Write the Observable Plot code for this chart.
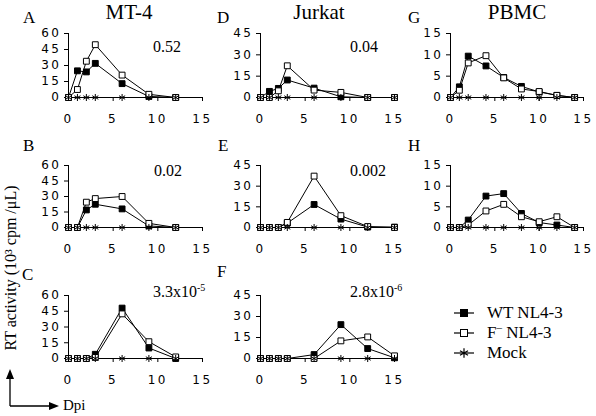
<!DOCTYPE html>
<html><head><meta charset="utf-8">
<script src="https://cdn.jsdelivr.net/npm/d3@7"></script>
<script src="https://cdn.jsdelivr.net/npm/@observablehq/plot@0.6"></script>
<style>
body{margin:0;background:#fff}
#fig{position:relative;width:596px;height:416px;overflow:hidden;background:#fff}
.panel{position:absolute}
.panel text{font-family:"DejaVu Sans",sans-serif;font-size:12px;letter-spacing:2.5px;fill:#000}
#ann{position:absolute;left:0;top:0}
#ann text{font-family:"Liberation Serif",serif;fill:#000}
</style>
</head><body><div id="fig"></div>
<script>
// ---- data (days post infection, RT activity 10^3 cpm/uL) ----
const daysA = [0,1,2,3,6,9,12];
const wtA   = [0,25,24,32,13,1,0];
const fA    = [0,7.5,34,49.5,21,3,0];
const mockA = [0,0,0,0,0,0,0];

const daysB = [0,1,2,3,6,9,12];
const wtB   = [0,0,17,22.5,18,1.5,0];
const fB    = [0,0,24.5,28,30,4,0];
const mockB = [0,0,0,0,0,0,0];

const daysC = [0,1,2,3,6,9,12];
const wtC   = [0,0,0,4,48,10,0];
const fC    = [0,0,0,1,42.5,16,1.5];
const mockC = [0,0,0,0,0,0,0];

const daysD = [0,1,2,3,6,9,12,15];
const wtD   = [0,4.3,6.4,12.3,6.6,0.5,0,0];
const fD    = [0,0,4.7,22.3,5.2,3.6,0,0];
const mockD = [0,0,0,0,0,0,0,0];

const daysE = [0,1,2,3,6,9,12,15];
const wtE   = [0,0,0,3.2,16.7,6.1,0.3,0.3];
const fE    = [0,0,0,3.7,37.3,8.6,0.7,0];
const mockE = [0,0,0,0,0,0,0,0];

const daysF = [0,1,2,3,6,9,12,15];
const wtF   = [0,0,0,0,2.8,24.2,7.1,0.5];
const fF    = [0,0,0,0,0,12.6,15.4,1.9];
const mockF = [0,0,0,0,0,0,0,0];

const daysG = [0,1,2,4,6,8,10,12,14];
const wtG   = [0,2.5,9.7,7.4,4.7,2.6,1.3,0.5,0];
const fG    = [0,1.7,8.1,9.8,4.6,2.0,1.4,0.5,0];
const mockG = [0,0,0,0,0,0,0,0,0];

const daysH = [0,1,2,4,6,8,10,12,14];
const wtH   = [0,0,1.8,7.6,8.2,3.4,1.2,0.6,0];
const fH    = [0,0,0.6,4.0,5.6,2.6,1.4,2.6,0];
const mockH = [0,0,0,0,0,0,0,0,0];

const xTicks = [0,5,10,15];
const yTicks60 = [0,15,30,45,60];
const yTicks45 = [0,15,30,45];
const yTicks15 = [0,5,10,15];

const cellTitles = ["MT-4","Jurkat","PBMC"];
const panelLetters = ["A","B","C","D","E","F","G","H"];
const pValues = ["0.52","0.02",["3.3x10","-5"],"0.04","0.002",["2.8x10","-6"]];
const seriesNames = ["WT NL4-3","F– NL4-3","Mock"];
const yLabel = "RT activity (10³ cpm /μL)";
const xLabel = "Dpi";

// ---- layout ----
const cols = [{x0:68,x15:202},{x0:260,x15:394},{x0:450,x15:583}];
const rowsL = [{top:33,zero:97},{top:165,zero:227},{top:295,zero:358}];

const fig = document.getElementById("fig");

function panel(days, wt, f, mock, ymax, yticks, col, row) {
  const mL = 40, mR = 12, mT = 8, mB = 34;
  const w = col.x15 - col.x0, h = row.zero - row.top;
  const tab = vals => days.map((d, i) => ({day: d, v: vals[i]}));
  const chart = Plot.plot({
    width: mL + w + mR, height: mT + h + mB,
    marginLeft: mL, marginRight: mR, marginTop: mT, marginBottom: mB,
    x: {domain: [0, 15], label: null},
    y: {domain: [0, ymax], label: null},
    style: {background: "transparent", overflow: "visible"},
    marks: [
      Plot.axisX({ticks: xTicks, tickSize: 4, tickPadding: 13, tickFormat: d => String(d)}),
      Plot.axisY({ticks: yticks, tickSize: 4, tickPadding: 3, tickFormat: d => String(d)}),
      Plot.ruleY([0], {stroke: "black"}),
      Plot.ruleX([0], {stroke: "black"}),
      Plot.line(tab(mock), {x: "day", y: "v", stroke: "black", strokeWidth: 1}),
      Plot.line(tab(wt), {x: "day", y: "v", stroke: "black", strokeWidth: 1}),
      Plot.line(tab(f), {x: "day", y: "v", stroke: "black", strokeWidth: 1}),
      Plot.dot(tab(wt), {x: "day", y: "v", symbol: "square", r: 3.3, fill: "black", stroke: "black", strokeWidth: 1}),
      Plot.dot(tab(f), {x: "day", y: "v", symbol: "square", r: 3.3, fill: "white", stroke: "black", strokeWidth: 1}),
      Plot.dot(tab(mock), {x: "day", y: "v", symbol: "asterisk", r: 3.3, stroke: "black", strokeWidth: 1})
    ]
  });
  chart.classList.add("panel");
  chart.style.left = (col.x0 - mL) + "px";
  chart.style.top = (row.top - mT) + "px";
  fig.appendChild(chart);
}

panel(daysA, wtA, fA, mockA, 60, yTicks60, cols[0], rowsL[0]);
panel(daysB, wtB, fB, mockB, 60, yTicks60, cols[0], rowsL[1]);
panel(daysC, wtC, fC, mockC, 60, yTicks60, cols[0], rowsL[2]);
panel(daysD, wtD, fD, mockD, 45, yTicks45, cols[1], rowsL[0]);
panel(daysE, wtE, fE, mockE, 45, yTicks45, cols[1], rowsL[1]);
panel(daysF, wtF, fF, mockF, 45, yTicks45, cols[1], rowsL[2]);
panel(daysG, wtG, fG, mockG, 15, yTicks15, cols[2], rowsL[0]);
panel(daysH, wtH, fH, mockH, 15, yTicks15, cols[2], rowsL[1]);

// ---- annotations ----
const svg = d3.select(fig).append("svg").attr("id", "ann")
  .attr("width", 596).attr("height", 416);

// column titles
[129, 319, 517].forEach((x, i) =>
  svg.append("text").attr("x", x).attr("y", 19).attr("text-anchor", "middle")
    .attr("font-size", 21).text(cellTitles[i]));

// panel letters
const letterPos = [[23,23],[23,151],[22,280],[217,23],[218,151],[217,277],[408,23],[408,151]];
panelLetters.forEach((l, i) =>
  svg.append("text").attr("x", letterPos[i][0]).attr("y", letterPos[i][1])
    .attr("font-size", 17).text(l));

// p-values
const pPos = [[153,52],[154,176],[153,297],[350,52],[350,176],[350,297]];
pValues.forEach((p, i) => {
  const t = svg.append("text").attr("x", pPos[i][0]).attr("y", pPos[i][1]).attr("font-size", 16);
  if (Array.isArray(p)) {
    t.append("tspan").text(p[0]);
    t.append("tspan").attr("font-size", 10).attr("dy", -6).text(p[1]);
  } else t.text(p);
});

// y label
svg.append("text").attr("transform", "translate(16,268) rotate(-90)")
  .attr("text-anchor", "middle").attr("font-size", 16).text(yLabel);

// axes arrows
svg.append("path").attr("d", "M10,406V377M10,406H52").attr("stroke", "black").attr("stroke-width", 1.3).attr("fill", "none");
svg.append("path").attr("d", "M10,369L6,379L14,379Z").attr("fill", "black");
svg.append("path").attr("d", "M59,406L49,402L49,410Z").attr("fill", "black");
svg.append("text").attr("x", 63).attr("y", 410).attr("font-size", 15).text(xLabel);

// legend
const legY = [313, 333, 353];
seriesNames.forEach((name, i) => {
  const y = legY[i];
  svg.append("line").attr("x1", 454).attr("x2", 474).attr("y1", y).attr("y2", y)
    .attr("stroke", "black").attr("stroke-width", 1.2);
  if (i < 2) {
    svg.append("rect").attr("x", 460.5).attr("y", y - 3.5).attr("width", 7).attr("height", 7)
      .attr("fill", i === 0 ? "black" : "white").attr("stroke", "black");
  } else {
    const sym = d3.symbol(d3.symbolAsterisk, 60)();
    svg.append("path").attr("d", sym).attr("transform", `translate(464,${y})`)
      .attr("stroke", "black").attr("stroke-width", 1.2).attr("fill", "none");
  }
  const t = svg.append("text").attr("x", 487).attr("y", y + 5).attr("font-size", 17);
  if (i === 1) {
    t.append("tspan").text("F");
    t.append("tspan").attr("font-size", 11).attr("dy", -7).text("–");
    t.append("tspan").attr("dy", 7).text(" NL4-3");
  } else t.text(name);
});
</script>
</body></html>
